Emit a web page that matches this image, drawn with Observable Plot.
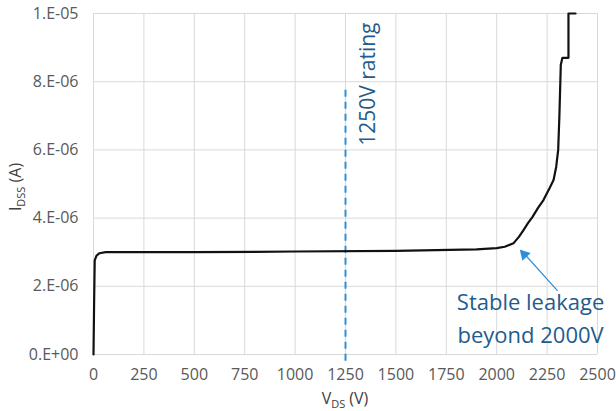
<!DOCTYPE html>
<html>
<head>
<meta charset="utf-8">
<script src="https://cdn.jsdelivr.net/npm/d3@7"></script>
<script src="https://cdn.jsdelivr.net/npm/@observablehq/plot@0.6"></script>
<style>
  html, body { margin: 0; padding: 0; background: #fff; }
  #chart svg { display: block; }
</style>
</head>
<body>
<div id="chart"></div>
<script>
// Curve: drain-source voltage (V) and leakage current (A)
const vds = [0, 3, 6, 15, 30, 60, 100, 500, 1000, 1500, 1900, 2000, 2040, 2083, 2110, 2133, 2155, 2177, 2205, 2232, 2260, 2282, 2295, 2305, 2311, 2318, 2326, 2356, 2356, 2391];
const idss = [0, 1.5e-6, 2.76e-6, 2.9e-6, 2.97e-6, 3.0e-6, 3.0e-6, 3.0e-6, 3.02e-6, 3.04e-6, 3.08e-6, 3.12e-6, 3.16e-6, 3.26e-6, 3.45e-6, 3.65e-6, 3.85e-6, 4.03e-6, 4.3e-6, 4.53e-6, 4.85e-6, 5.12e-6, 5.5e-6, 6.0e-6, 7.0e-6, 8.5e-6, 8.7e-6, 8.7e-6, 1.0e-5, 1.0e-5];

const xTicks = [0, 250, 500, 750, 1000, 1250, 1500, 1750, 2000, 2250, 2500];
const yTicks = [0, 2e-6, 4e-6, 6e-6, 8e-6, 1e-5];
const yTickLabels = ["0.E+00", "2.E-06", "4.E-06", "6.E-06", "8.E-06", "1.E-05"];

const ratingV = [1250];
const ratingSpan = [-0.2e-6, 7.8e-6];
const ratingText = ["1250V rating"];
const noteLines = ["Stable leakage", "beyond 2000V"];
const arrowFrom = [2300, 1.88e-6];
const arrowTo = [2122, 3.05e-6];

const curve = vds.map((v, i) => ({v, i: idss[i]}));

const FONT = "'Open Sans', 'Liberation Sans', sans-serif";
const BLUE_TEXT = "#1f5c8c";
const BLUE_LINE = "#2f8fd6";

const plot = Plot.plot({
  width: 616,
  height: 411,
  marginLeft: 93,
  marginRight: 19,
  marginTop: 13,
  marginBottom: 57,
  style: {fontFamily: FONT, fontSize: "16px", color: "#595959", background: "#fff"},
  x: {domain: [0, 2500], ticks: xTicks, tickSize: 0, tickPadding: 14, label: null, tickFormat: d => String(d)},
  y: {domain: [0, 1e-5], ticks: yTicks, tickSize: 0, tickPadding: 15, label: null,
      tickFormat: d => yTickLabels[yTicks.findIndex(t => Math.abs(t - d) < 1e-12)]},
  marks: [
    Plot.ruleX(xTicks, {stroke: "#d9d9d9", strokeWidth: 1}),
    Plot.ruleY(yTicks, {stroke: "#d9d9d9", strokeWidth: 1}),
    Plot.ruleX(ratingV, {y1: ratingSpan[0], y2: ratingSpan[1], stroke: BLUE_LINE, strokeWidth: 2, strokeDasharray: "7,5"}),
    Plot.text(ratingText, {x: ratingV[0], y: 6.12e-6, dx: 23, rotate: -90, textAnchor: "start", fill: BLUE_TEXT, fontSize: 21, fontFamily: FONT}),
    Plot.line(curve, {x: "v", y: "i", stroke: "#111", strokeWidth: 2.2, curve: "linear"}),
    Plot.arrow([{x1: arrowFrom[0], y1: arrowFrom[1], x2: arrowTo[0], y2: arrowTo[1]}], {x1: "x1", y1: "y1", x2: "x2", y2: "y2", stroke: BLUE_LINE, strokeWidth: 1.3, headLength: 0}),
    Plot.dot([{x: arrowTo[0], y: arrowTo[1]}], {x: "x", y: "y", dx: 3, dy: 4, symbol: "triangle", r: 4.2, rotate: -43, fill: BLUE_LINE, stroke: "none"}),
    Plot.text([noteLines[0]], {x: 2168, y: 1.52e-6, textAnchor: "middle", fill: BLUE_TEXT, fontSize: 22, fontFamily: FONT}),
    Plot.text([noteLines[1]], {x: 2168, y: 0.53e-6, textAnchor: "middle", fill: BLUE_TEXT, fontSize: 22, fontFamily: FONT})
  ]
});

document.getElementById("chart").appendChild(plot);

// Axis titles with subscripts
const svg = d3.select(plot);
const yl = svg.append("text")
  .attr("transform", "translate(21,187) rotate(-90)")
  .attr("text-anchor", "middle")
  .attr("fill", "#404040")
  .attr("font-family", FONT)
  .attr("font-size", 16);
yl.append("tspan").text("I");
yl.append("tspan").attr("font-size", 11).attr("dy", 4).text("DSS");
yl.append("tspan").attr("dy", -4).text(" (A)");

const xl = svg.append("text")
  .attr("x", 345)
  .attr("y", 404)
  .attr("text-anchor", "middle")
  .attr("fill", "#404040")
  .attr("font-family", FONT)
  .attr("font-size", 16);
xl.append("tspan").text("V");
xl.append("tspan").attr("font-size", 11).attr("dy", 4).text("DS");
xl.append("tspan").attr("dy", -4).text(" (V)");
</script>
</body>
</html>
